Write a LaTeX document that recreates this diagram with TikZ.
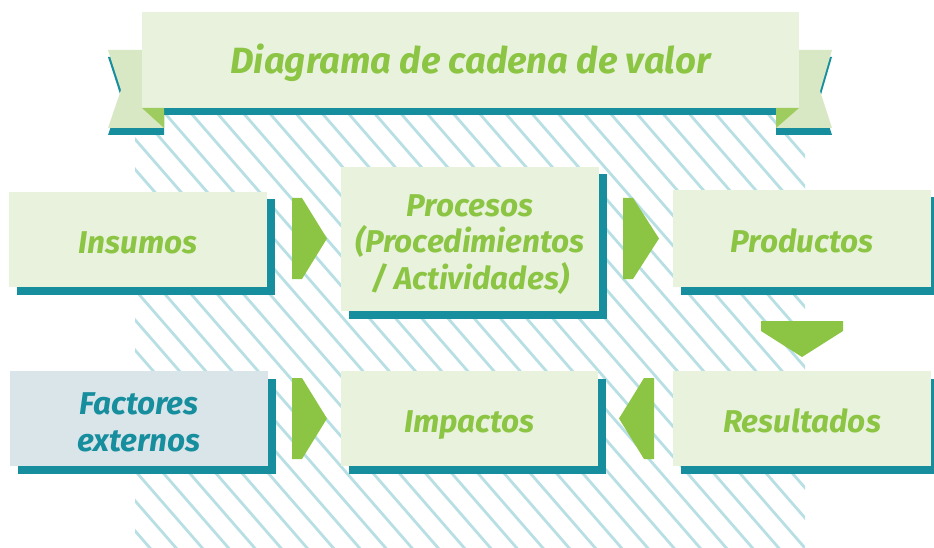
\documentclass[tikz,border=0pt]{standalone}
\usepackage{fontspec}
\setmainfont{Fira Sans}
\usetikzlibrary{shadows}
\definecolor{boxfill}{HTML}{E8F2DD}
\definecolor{ribfill}{HTML}{D8E8C4}
\definecolor{foldgreen}{HTML}{9FCC5E}
\definecolor{tealc}{HTML}{168E9E}
\definecolor{greenc}{HTML}{8BC543}
\definecolor{facfill}{HTML}{DAE5EA}
\definecolor{hatchc}{HTML}{B8DFE4}
\begin{document}
\begin{tikzpicture}[x=1pt,y=-1pt,
  chainbox/.style={rectangle, fill=boxfill, inner sep=0pt, text=greenc, align=center,
    font=\fontsize{31.5}{36.7}\selectfont\bfseries\itshape,
    text height=27pt, text depth=0pt,
    minimum width=258pt, minimum height=95pt,
    general shadow={fill=tealc, shadow xshift=7.5pt, shadow yshift=-7.5pt}},
  multiline/.style={text height={}, text depth={}},
  chainarrow/.style={fill=greenc},
  titlebox/.style={rectangle, fill=boxfill, inner sep=0pt, text=greenc,
    font=\fontsize{36.5}{40}\selectfont\bfseries\itshape,
    text height=28pt, text depth=0pt,
    minimum width=657pt, minimum height=96pt}]
\useasboundingbox (0,0) rectangle (934,548);
% hatched background
\begin{scope}
  \clip (135,112) rectangle (805,548);
  \foreach \k in {-18,...,24} {
    \draw[hatchc, line width=2.8pt] ({190+26.2*\k},112) -- ++(500,575);
  }
\end{scope}
% ribbon ends
\fill[tealc] (108,57) -- (164,57) -- (164,135) -- (108,135) -- (121,97) -- cycle;
\fill[ribfill] (108,50) -- (164,50) -- (164,128) -- (108,128) -- (121,90) -- cycle;
\fill[tealc] (832,57) -- (776,57) -- (776,135) -- (832,135) -- (820,98) -- cycle;
\fill[ribfill] (832,50) -- (776,50) -- (776,128) -- (832,128) -- (820,91) -- cycle;
% title
\fill[tealc] (164,108) rectangle (776,115);
\node[titlebox] (title) at (470.5,60) {Diagrama de cadena de valor};
\fill[foldgreen] (142,108) -- (164,108) -- (164,128) -- cycle;
\fill[foldgreen] (799,108) -- (776,108) -- (776,128) -- cycle;
% boxes
\node[chainbox] (ins) at (138,239.5) {Insumos};
\node[chainbox, multiline, minimum height=144pt] (proc) at (470,239) {\rule{0pt}{33pt}Procesos\\(Procedimientos\\/ Actividades)};
\node[chainbox, minimum height=97pt] (prod) at (802,238.5) {Productos};
\node[chainbox, multiline, fill=facfill, text=tealc] (fac) at (139,418.5) {\rule{0pt}{30pt}Factores\\externos};
\node[chainbox, minimum width=257pt] (imp) at (469.5,418.5) {Impactos};
\node[chainbox] (res) at (802,418.5) {Resultados};
% arrows
\fill[chainarrow] (292,198) -- (302,198) -- (327,238.5) -- (302,279) -- (292,279) -- cycle;
\fill[chainarrow] (623,198) -- (633,198) -- (659,238.5) -- (633,279) -- (623,279) -- cycle;
\fill[chainarrow] (761,321) -- (843,321) -- (843,331) -- (802,357) -- (761,331) -- cycle;
\fill[chainarrow] (654,378) -- (644,378) -- (619,418.5) -- (644,459) -- (654,459) -- cycle;
\fill[chainarrow] (292,378) -- (302,378) -- (327,418.5) -- (302,459) -- (292,459) -- cycle;
\end{tikzpicture}
\end{document}
